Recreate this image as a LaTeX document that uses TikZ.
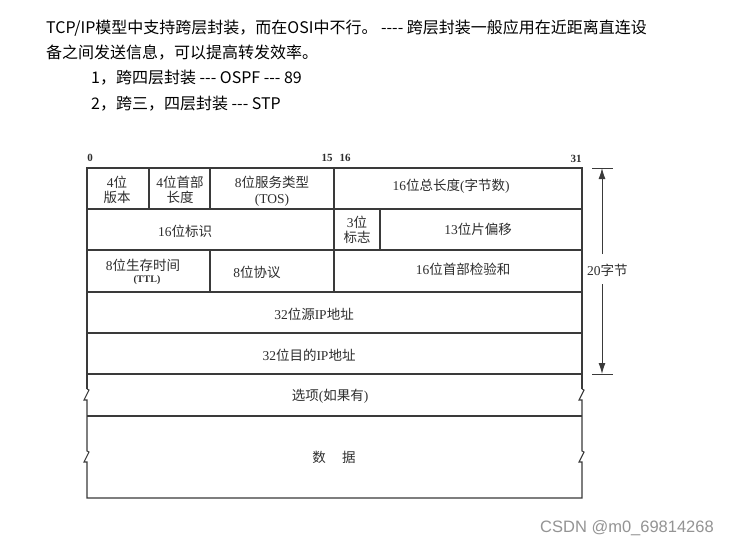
\documentclass[tikz,border=0pt]{standalone}
\usepackage{fontspec}
\setmainfont{Liberation Serif}
\newfontfamily\cjk{Noto Sans CJK SC}
\newfontfamily\wmfont{Liberation Sans}
\usetikzlibrary{arrows.meta}
\definecolor{ln}{HTML}{3A3A3A}
\definecolor{tx}{HTML}{2E2E2E}
\newcommand\zhs[1]{{\cjk #1}}
\begin{document}
\begin{tikzpicture}[x=1pt,y=-1pt,
  frame/.style={draw=ln, line width=1.1pt, line join=miter},
  cell/.style={font=\fontsize{13.5}{15.5}\selectfont, text=tx, align=center, inner sep=0pt},
  small/.style={font=\bfseries\fontsize{10}{12}\selectfont, text=tx, inner sep=0pt},
  head/.style={font=\cjk\fontsize{16}{18}\selectfont, text=black, anchor=west, inner sep=0pt},
  bit/.style={font=\bfseries\fontsize{11}{12}\selectfont, text=tx, inner sep=0pt},
  dim/.style={draw=ln, line width=1pt},
  wm/.style={font=\wmfont\fontsize{16.5}{18}\selectfont, text=black!42, anchor=west, inner sep=0pt}
]
\useasboundingbox (0,0) rectangle (731,547);
\fill[white] (0,0) rectangle (731,547);

% header text
\node[head] (l1) at (46,28) {TCP/IP模型中支持跨层封装，而在OSI中不行。 ---- 跨层封装一般应用在近距离直连设};
\node[head] (l2) at (46,53) {备之间发送信息，可以提高转发效率。};
\node[head] (l3) at (91,78) {1，跨四层封装 --- OSPF --- 89};
\node[head] (l4) at (91,104) {2，跨三，四层封装 --- STP};

% bit numbers
\node[bit] (b0) at (90,158) {0};
\node[bit] (b15) at (327,158) {15};
\node[bit] (b16) at (345,158) {16};
\node[bit] (b31) at (576,159) {31};

% frame outline
\draw[frame] (87,389) -- (87,168) -- (582,168) -- (582,389);
\draw[frame] (87,389) -- (89,390) -- (84,400) -- (87,400) -- (87,451) -- (89,452) -- (84,462) -- (87,462) -- (87,498) -- (582,498)
  -- (582,462) -- (579,462) -- (584,452) -- (582,451) -- (582,400) -- (579,400) -- (584,390) -- (582,389);
% row lines
\foreach \yy in {209,250,292,333,374,416} \draw[frame] (87,\yy) -- (582,\yy);
% column lines
\draw[frame] (149,168) -- (149,209);
\draw[frame] (210,168) -- (210,209);
\draw[frame] (334,168) -- (334,209);
\draw[frame] (334,209) -- (334,250);
\draw[frame] (380,209) -- (380,250);
\draw[frame] (210,250) -- (210,292);
\draw[frame] (334,250) -- (334,292);

% cell texts
\node[cell] (ver) at (117,190) {4\zhs{位}\\\zhs{版本}};
\node[cell] (ihl) at (180,190) {4\zhs{位首部}\\\zhs{长度}};
\node[cell] (tos) at (272,191) {8\zhs{位服务类型}\\(TOS)};
\node[cell] (tlen) at (451,186) {16\zhs{位总长度}(\zhs{字节数})};
\node[cell] (id) at (185,231) {16\zhs{位标识}};
\node[cell] (flag) at (357,230) {3\zhs{位}\\\zhs{标志}};
\node[cell] (frag) at (478,229) {13\zhs{位片偏移}};
\node[cell] (ttl) at (143,265) {8\zhs{位生存时间}};
\node[small] (ttl2) at (147,280) {(TTL)};
\node[cell] (proto) at (257,272) {8\zhs{位协议}};
\node[cell] (cks) at (463,269) {16\zhs{位首部检验和}};
\node[cell] (src) at (314,314) {32\zhs{位源}IP\zhs{地址}};
\node[cell] (dst) at (309,355) {32\zhs{位目的}IP\zhs{地址}};
\node[cell] (opt) at (330,396) {\zhs{选项}(\zhs{如果有})};
\node[cell] (data) at (334,457) {\zhs{数}\hspace{1.2em}\zhs{据}};

% 20 byte dimension
\coordinate (arT) at (602,168);
\coordinate (arB) at (602,374);
\coordinate (gT) at (602,254);
\coordinate (gB) at (602,284);
\node[cell, anchor=west] (len) at (587,270) {20\zhs{字节}};
\draw[dim] (592,168) -- (613,168);
\draw[dim] (592,374) -- (613,374);
\draw[dim, -{Latex[length=11pt,width=7pt]}] (gT) -- (arT);
\draw[dim, -{Latex[length=11pt,width=7pt]}] (gB) -- (arB);

% watermark
\node[wm] (wmk) at (540,528) {CSDN @m0\_69814268};
\end{tikzpicture}
\end{document}
